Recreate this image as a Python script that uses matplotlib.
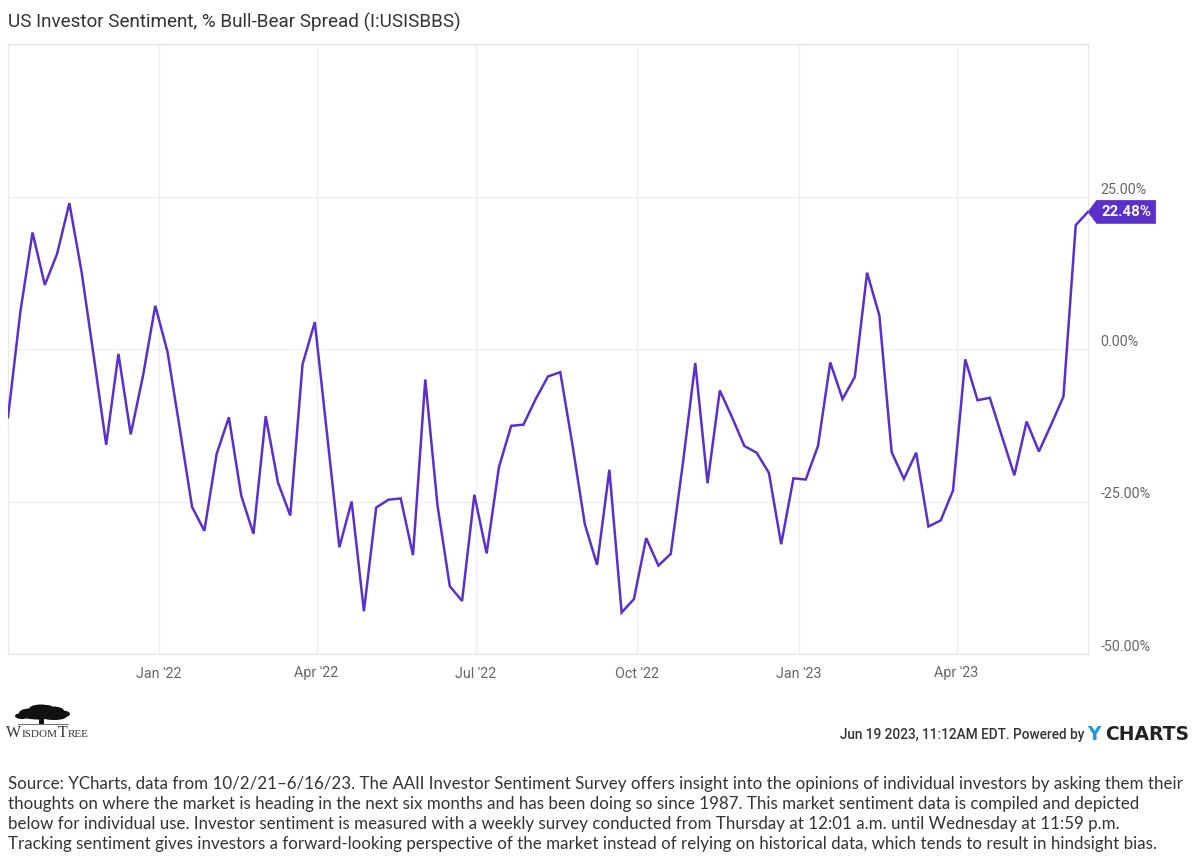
import numpy as np
import pandas as pd
import matplotlib
matplotlib.use("Agg")
import matplotlib.pyplot as plt
from matplotlib.path import Path
from matplotlib.patches import Ellipse, Rectangle

# weekly AAII bull-bear spread, %
spread = [
    -11.2, 6.0, 19.1, 10.5, 15.6, 23.9, 12.6, -1.4, -15.7, -0.8,
    -14.0, -4.4, 7.1, -0.5, -13.1, -25.9, -29.8, -17.2, -11.2, -24.0,
    -30.3, -11.0, -21.9, -27.3, -2.5, 4.4, -14.0, -32.5, -25.0, -43.0,
    -26.0, -24.7, -24.5, -33.8, -5.0, -25.7, -38.9, -41.3, -23.9, -33.5,
    -19.4, -12.6, -12.4, -8.2, -4.5, -3.8, -15.8, -28.7, -35.4, -19.8,
    -43.2, -41.0, -31.0, -35.5, -33.6, -18.6, -2.3, -22.0, -6.8, -11.2,
    -15.9, -17.0, -20.3, -32.0, -21.2, -21.4, -15.9, -2.2, -8.2, -4.6,
    12.5, 5.5, -16.9, -21.3, -17.0, -29.1, -28.1, -23.2, -1.7, -8.4,
    -8.0, -14.4, -20.7, -11.9, -16.8, -12.4, -7.8, 20.3, 22.48,
]
start_date = "2021-10-07"
dates = pd.date_range(start_date, periods=len(spread), freq="7D")

y_ticks = [25, 0, -25, -50]
x_ticks = ["2022-01-01", "2022-04-01", "2022-07-01", "2022-10-01",
           "2023-01-01", "2023-04-01"]
x_labels = ["Jan '22", "Apr '22", "Jul '22", "Oct '22", "Jan '23", "Apr '23"]

title = "US Investor Sentiment, % Bull-Bear Spread (I:USISBBS)"
stamp = "Jun 19 2023, 11:12AM EDT. Powered by"
source_lines = [
    "Source: YCharts, data from 10/2/21\u20136/16/23. The AAII Investor Sentiment Survey offers insight into the opinions of individual investors by asking them their",
    "thoughts on where the market is heading in the next six months and has been doing so since 1987. This market sentiment data is compiled and depicted",
    "below for individual use. Investor sentiment is measured with a weekly survey conducted from Thursday at 12:01 a.m. until Wednesday at 11:59 p.m.",
    "Tracking sentiment gives investors a forward-looking perspective of the market instead of relying on historical data, which tends to result in hindsight bias.",
]
logo_parts = [("W", 11.5), ("ISDOM", 8), ("T", 11.5), ("REE", 8)]

purple = "#5b2fc9"
W, H = 1200, 868
fig = plt.figure(figsize=(W / 100, H / 100), dpi=100)
fig.patch.set_facecolor("white")

ax = fig.add_axes([8 / W, 1 - 654 / H, (1088 - 8) / W, (654 - 44) / H])
ax.plot(dates, spread, color=purple, lw=1.8, solid_joinstyle="miter", zorder=3)
ax.set_ylim(-50, 50)
ax.set_xlim(dates[0], dates[-1])

ax.set_yticks([50] + y_ticks)
ax.yaxis.tick_right()
ax.set_yticklabels([""] + ["%.2f%%" % v for v in y_ticks],
                   fontfamily="Roboto", fontsize=10.3, color="#666666")
for lab in ax.get_yticklabels():
    lab.set_verticalalignment("bottom")
ax.tick_params(axis="y", length=0, pad=9)

ax.set_xticks(pd.to_datetime(x_ticks))
ax.set_xticklabels(x_labels, fontfamily="Roboto", fontsize=10.3, color="#666666")
ax.tick_params(axis="x", length=0, pad=9)

ax.grid(True, color="#eeeeee", lw=1)
ax.set_axisbelow(True)
for sp in ax.spines.values():
    sp.set_color("#e8e8e8")
    sp.set_linewidth(1)


def tag_box(x0, y0, width, height, mutation_size):
    pad = mutation_size * 0.3
    x0 -= pad
    y0 -= pad
    w = width + 2 * pad
    h = height + 2 * pad
    tip = h * 0.38
    verts = [(x0 - tip, y0 + h / 2), (x0, y0), (x0 + w, y0), (x0 + w, y0 + h),
             (x0, y0 + h), (x0 - tip, y0 + h / 2)]
    codes = [Path.MOVETO] + [Path.LINETO] * 4 + [Path.CLOSEPOLY]
    return Path(verts, codes)


ax.annotate("%.2f%%" % spread[-1], xy=(dates[-1], spread[-1]),
            xytext=(9.5, 0), textcoords="offset points", va="center", ha="left",
            color="white", fontsize=10.8, fontweight="bold", fontfamily="Roboto",
            bbox=dict(boxstyle=tag_box, fc=purple, ec=purple, lw=0.5),
            annotation_clip=False, zorder=5)

fig.text(8 / W, 1 - 22 / H, title, fontfamily="Roboto", fontsize=13.6,
         color="#333333", va="center", ha="left")

# WisdomTree mark
lg = fig.add_axes([8 / W, 1 - 748 / H, 110 / W, 48 / H])
lg.set_xlim(0, 110)
lg.set_ylim(48, 0)
lg.axis("off")
for cx, cy, ew, eh in [(22, 13, 22, 9), (33, 9, 24, 9), (45, 11, 22, 9),
                       (54, 14, 16, 7), (14, 16, 14, 6), (30, 16, 30, 7),
                       (46, 17, 24, 6), (38, 8, 14, 6)]:
    lg.add_patch(Ellipse((cx, cy), ew, eh, fc="#111111", ec="none"))
lg.add_patch(Rectangle((31, 17), 5, 7, fc="#111111", ec="none"))
lg.plot([10, 60], [24, 24], color="#555555", lw=0.6)

r = fig.canvas.get_renderer()
x_cursor = 6 / W
for part, size in logo_parts:
    t = fig.text(x_cursor, 1 - 737 / H, part, fontfamily="Liberation Serif",
                 fontsize=size, color="#333333", va="baseline", ha="left")
    x_cursor = t.get_window_extent(r).x1 / W + 0.4 / W

fig.text(1084 / W, 1 - 735 / H, stamp, fontfamily="Roboto", fontsize=9.8,
         fontweight="medium", color="#333333", va="center", ha="right")
fig.text(1087 / W, 1 - 734 / H, "Y", fontfamily="DejaVu Sans", fontsize=13.5,
         fontweight="bold", color="#1f9ad6", va="center", ha="left")
fig.text(1105 / W, 1 - 734 / H, "CHARTS", fontfamily="DejaVu Sans", fontsize=13.5,
         fontweight="bold", color="#222222", va="center", ha="left")

for i, line in enumerate(source_lines):
    fig.text(8 / W, 1 - (784 + 20 * i) / H, line, fontfamily="Lato",
             fontsize=12.2, color="#333333", va="center", ha="left")

fig.savefig("out.png", dpi=100, facecolor="white")
